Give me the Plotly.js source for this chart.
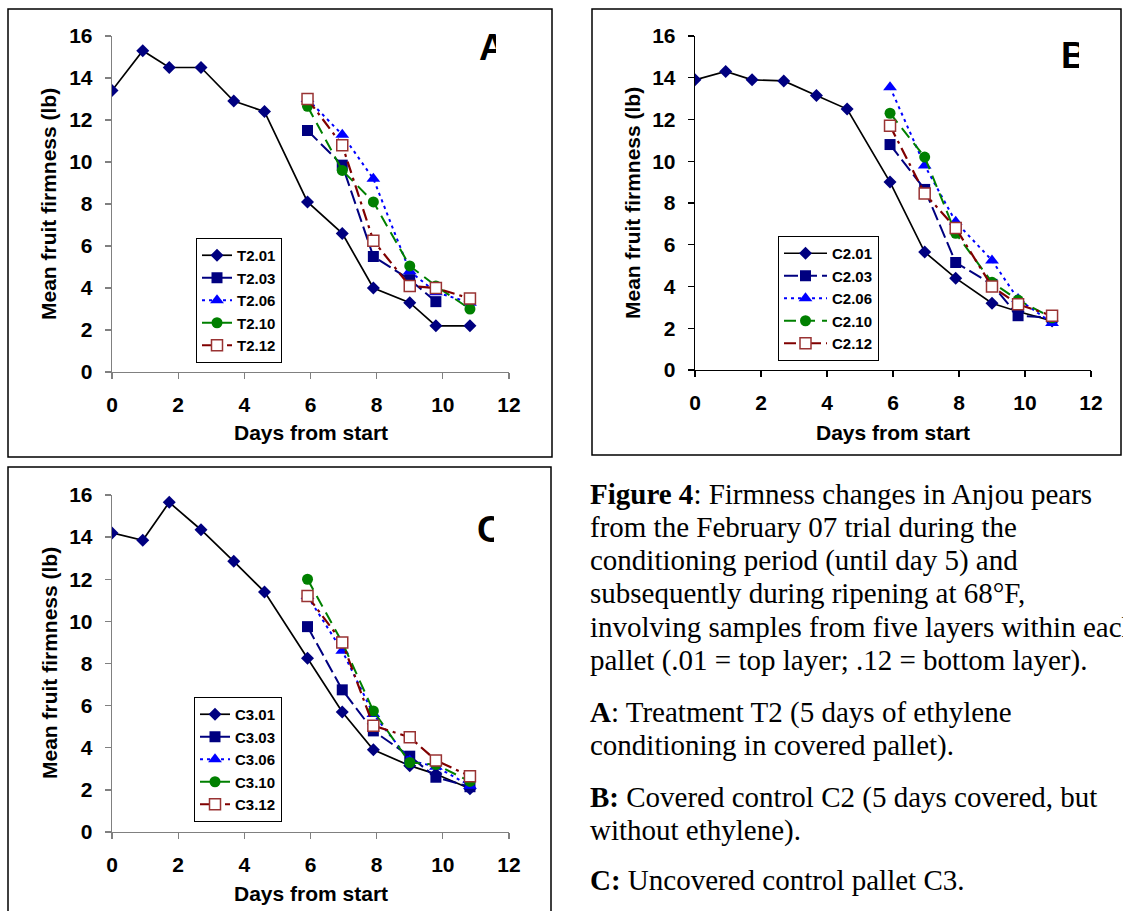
<!DOCTYPE html>
<html><head><meta charset="utf-8">
<script src="https://cdn.plot.ly/plotly-3.0.1.min.js"></script>
<style>html,body{margin:0;padding:0;background:#fff;overflow:hidden}#chart{width:1123px;height:911px}</style>
</head><body><div id="chart"></div>
<script>
// ---------------- data ----------------
const days = [0, 0.93, 1.73, 2.69, 3.68, 4.61, 5.91, 6.96, 7.9, 9.0, 9.79, 10.82];
const ripeDays = [5.91, 6.96, 7.9, 9.0, 9.79, 10.82];
const ripeDays5 = [5.91, 6.96, 7.9, 9.0, 9.79];

const namesA = ['T2.01', 'T2.03', 'T2.06', 'T2.10', 'T2.12'];
const T2_01 = [13.4, 15.3, 14.5, 14.5, 12.9, 12.4, 8.1, 6.6, 4.0, 3.3, 2.2, 2.2];
const T2_03 = [11.5, 9.85, 5.5, 4.4, 3.35];
const T2_06 = [13.0, 11.3, 9.2, 4.8, 3.8, 3.3];
const T2_10 = [12.65, 9.6, 8.1, 5.05, 4.1, 3.0];
const T2_12 = [13.0, 10.8, 6.25, 4.1, 4.0, 3.5];

const namesB = ['C2.01', 'C2.03', 'C2.06', 'C2.10', 'C2.12'];
const C2_01 = [13.9, 14.3, 13.9, 13.85, 13.15, 12.5, 9.0, 5.65, 4.4, 3.2, 2.8, 2.35];
const C2_03 = [10.8, 8.65, 5.15, 4.1, 2.6, 2.5];
const C2_06 = [13.55, 9.8, 7.1, 5.25, 3.4, 2.25];
const C2_10 = [12.3, 10.2, 6.55, 4.2, 3.35, 2.5];
const C2_12 = [11.7, 8.45, 6.8, 4.0, 3.15, 2.6];

const namesC = ['C3.01', 'C3.03', 'C3.06', 'C3.10', 'C3.12'];
const C3_01 = [14.2, 13.85, 15.65, 14.35, 12.85, 11.4, 8.25, 5.7, 3.9, 3.15, 2.75, 2.05];
const C3_03 = [9.75, 6.75, 4.8, 3.6, 2.6, 2.15];
const C3_06 = [11.2, 8.6, 5.6, 3.4, 3.1, 2.2];
const C3_10 = [12.0, 9.0, 5.75, 3.3, 3.2, 2.4];
const C3_12 = [11.2, 9.0, 5.05, 4.5, 3.4, 2.65];

const xTitle = 'Days from start';
const yTitle = 'Mean fruit firmness (lb)';
const panelLetters = ['A', 'B', 'C'];
const captionLines = [
  '<b>Figure 4</b>: Firmness changes in Anjou pears',
  'from the February 07 trial during the',
  'conditioning period (until day 5) and',
  'subsequently during ripening at 68°F,',
  'involving samples from five layers within each',
  'pallet (.01 = top layer; .12 = bottom layer).',
  '<b>A</b>: Treatment T2 (5 days of ethylene',
  'conditioning in covered pallet).',
  '<b>B:</b> Covered control C2 (5 days covered, but',
  'without ethylene).',
  '<b>C:</b> Uncovered control pallet C3.'
];

// ---------------- styles ----------------
const W = 1123, H = 911;
const PX = v => v / W;
const PY = v => 1 - v / H;

const styles = [
  {line: {color: '#000000', width: 1.7}, marker: {symbol: 'diamond', size: 10, color: '#000080'}},
  {line: {color: '#000080', width: 2, dash: '14px,5px'}, marker: {symbol: 'square', size: 11, color: '#000080'}},
  {line: {color: '#0000FF', width: 2, dash: '3px,4px'}, marker: {symbol: 'triangle-up', size: 12, color: '#0000FF'}},
  {line: {color: '#008000', width: 2, dash: '12px,7px'}, marker: {symbol: 'circle', size: 11, color: '#008000'}},
  {line: {color: '#800000', width: 2.2, dash: '12px,5px,3px,5px'}, marker: {symbol: 'square', size: 11, color: '#ffffff', line: {color: '#993333', width: 1.5}}}
];

const panels = [
  {names: namesA, ys: [T2_01, T2_03, T2_06, T2_10, T2_12], xs: [days, ripeDays5, ripeDays, ripeDays, ripeDays], xa: 'x', ya: 'y', legend: 'legend'},
  {names: namesB, ys: [C2_01, C2_03, C2_06, C2_10, C2_12], xs: [days, ripeDays, ripeDays, ripeDays, ripeDays], xa: 'x2', ya: 'y2', legend: 'legend2'},
  {names: namesC, ys: [C3_01, C3_03, C3_06, C3_10, C3_12], xs: [days, ripeDays, ripeDays, ripeDays, ripeDays], xa: 'x3', ya: 'y3', legend: 'legend3'}
];

const traces = [];
panels.forEach(p => {
  p.names.forEach((n, i) => {
    traces.push({
      type: 'scatter', mode: 'lines+markers', name: n,
      x: p.xs[i], y: p.ys[i], xaxis: p.xa, yaxis: p.ya, legend: p.legend,
      line: styles[i].line, marker: styles[i].marker, hoverinfo: 'x+y+name'
    });
  });
});

const tickFont = {family: 'Liberation Sans, Arial, sans-serif', size: 21, color: '#000', weight: 'bold'};
function xAx(d0, d1, col) {
  return {domain: [PX(d0), PX(d1)], range: [0, 12], dtick: 2, tick0: 0, showgrid: false, zeroline: false,
    showline: true, linecolor: col, linewidth: 1.3, ticks: 'outside', ticklen: 6, tickcolor: col, tickwidth: 1.3,
    tickfont: tickFont, ticklabelstandoff: 7, fixedrange: true};
}
function yAx(p0, p1, col) {
  return {domain: [PY(p0), PY(p1)], range: [0, 16], dtick: 2, tick0: 0, showgrid: false, zeroline: false,
    showline: true, linecolor: col, linewidth: 1.3, ticks: 'outside', ticklen: 6, tickcolor: col, tickwidth: 1.3,
    tickfont: tickFont, ticklabelstandoff: 8, fixedrange: true};
}

const legendBase = {bgcolor: '#ffffff', bordercolor: '#000000', borderwidth: 1,
  font: {family: 'Liberation Sans, Arial, sans-serif', size: 15, color: '#000', weight: 'bold'},
  xanchor: 'left', yanchor: 'top', tracegroupgap: 0, itemclick: false, itemdoubleclick: false};

const titleFont = {family: 'Liberation Sans, Arial, sans-serif', size: 21, color: '#000', weight: 'bold'};
const annotations = [];
// axis titles
[[310.5, 433, 49, 204], [893, 433, 632, 203], [310.5, 893, 49, 663]].forEach(a => {
  annotations.push({xref: 'paper', yref: 'paper', x: PX(a[0]), y: PY(a[1]), text: xTitle, showarrow: false,
    xanchor: 'center', yanchor: 'middle', font: titleFont});
  annotations.push({xref: 'paper', yref: 'paper', x: PX(a[2]), y: PY(a[3]), text: yTitle, showarrow: false,
    textangle: -90, xanchor: 'center', yanchor: 'middle', font: titleFont});
});
// panel letters (clipped, as in the source)
const letterPos = [[478, 47, 17], [1060.3, 55, 18], [476.4, 529, 17]];
panelLetters.forEach((L, i) => {
  annotations.push({xref: 'paper', yref: 'paper', x: PX(letterPos[i][0]), y: PY(letterPos[i][1]), text: L,
    showarrow: false, xanchor: 'left', yanchor: 'middle', align: 'left', width: letterPos[i][2], borderpad: 0,
    font: {family: 'Liberation Sans, Arial, sans-serif', size: 37, color: '#000', weight: 'bold'}});
});
// caption
const capY = [494, 527, 560, 593, 627, 660, 712, 745, 797, 830, 880];
captionLines.forEach((t, i) => {
  annotations.push({xref: 'paper', yref: 'paper', x: PX(588), y: PY(capY[i]), text: t, showarrow: false,
    xanchor: 'left', yanchor: 'middle', align: 'left',
    font: {family: 'Liberation Serif, Times New Roman, serif', size: 29, color: '#000'}});
});

const boxLine = {color: '#000000', width: 1.5};
const shapes = [
  {type: 'rect', xref: 'paper', yref: 'paper', x0: PX(8), x1: PX(552), y0: PY(9), y1: PY(457), line: boxLine},
  {type: 'rect', xref: 'paper', yref: 'paper', x0: PX(592), x1: PX(1121), y0: PY(9), y1: PY(455), line: boxLine},
  {type: 'rect', xref: 'paper', yref: 'paper', x0: PX(8), x1: PX(551), y0: PY(467), y1: PY(940), line: boxLine}
];

const layout = {
  width: W, height: H, margin: {l: 0, r: 0, t: 0, b: 0}, paper_bgcolor: '#ffffff', plot_bgcolor: 'rgba(0,0,0,0)',
  showlegend: true,
  xaxis: xAx(112, 509, '#808080'), yaxis: yAx(372, 36, '#808080'),
  xaxis2: xAx(695, 1091, '#000000'), yaxis2: yAx(370, 36, '#000000'),
  xaxis3: xAx(112, 509, '#808080'), yaxis3: yAx(832, 495, '#808080'),
  legend: Object.assign({}, legendBase, {x: PX(196), y: PY(238)}),
  legend2: Object.assign({}, legendBase, {x: PX(778), y: PY(236), itemwidth: 43}),
  legend3: Object.assign({}, legendBase, {x: PX(194), y: PY(697)}),
  annotations: annotations, shapes: shapes
};
layout.xaxis.anchor = 'y'; layout.yaxis.anchor = 'x';
layout.xaxis2.anchor = 'y2'; layout.yaxis2.anchor = 'x2';
layout.xaxis3.anchor = 'y3'; layout.yaxis3.anchor = 'x3';

Plotly.newPlot('chart', traces, layout, {staticPlot: true, displayModeBar: false});
</script></body></html>
